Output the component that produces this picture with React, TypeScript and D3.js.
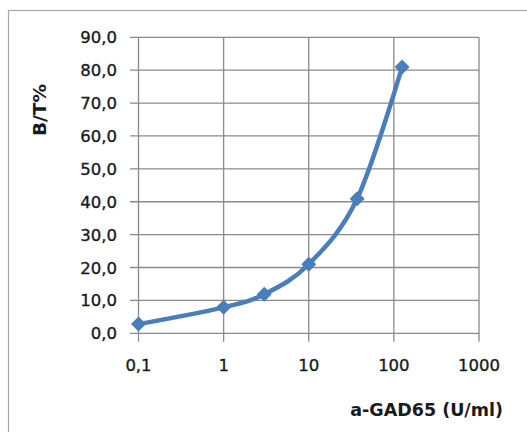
import React from "react";
import * as d3 from "d3";

const concentrations = [0.1, 1, 3, 10, 37, 125];
const btPercent = [2.8, 7.9, 11.9, 21.0, 40.9, 81.0];
const xTicks = [0.1, 1, 10, 100, 1000];
const xTickLabels = ["0,1", "1", "10", "100", "1000"];
const yTicks = [0, 10, 20, 30, 40, 50, 60, 70, 80, 90];
const xTitle = "a-GAD65 (U/ml)";
const yTitle = "B/T%";

const W = 527;
const H = 432;
const left = 138.5;
const right = 479;
const top = 37.3;
const bottom = 333.3;
const FONT = "'DejaVu Sans', sans-serif";

export default function App() {
  const x = d3.scaleLog().domain([0.1, 1000]).range([left, right]);
  const y = d3.scaleLinear().domain([0, 90]).range([bottom, top]);
  const pts: [number, number][] = concentrations.map((c, i) => [x(c), y(btPercent[i])]);
  const line = d3.line().curve(d3.curveCatmullRom.alpha(0))(pts) || "";
  const grid = "#8a8a8a";
  const blue = "#4a7ebb";
  const dm = 7.5;
  const txt = "#1a1a1a";
  return (
    <svg
      width={W}
      height={H}
      style={{ position: "absolute", left: 0, top: 0, background: "#fff" }}
    >
      <rect x={8.5} y={10.5} width={600} height={500} fill="#fff" stroke="#a6a6a6" strokeWidth={1.2} />
      {yTicks.map((t) => (
        <line key={"gy" + t} x1={130} x2={right} y1={y(t)} y2={y(t)} stroke={grid} strokeWidth={1.3} />
      ))}
      {xTicks.map((t) => (
        <line key={"gx" + t} x1={x(t)} x2={x(t)} y1={top} y2={bottom + 8.5} stroke={grid} strokeWidth={1.3} />
      ))}
      {yTicks.map((t) => (
        <text
          key={"ly" + t}
          x={117}
          y={y(t) + 6}
          textAnchor="end"
          fontFamily={FONT}
          fontSize={16.5}
          fill={txt}
          stroke={txt}
          strokeWidth={0.35}
        >
          {t.toFixed(1).replace(".", ",")}
        </text>
      ))}
      {xTicks.map((t, i) => (
        <text
          key={"lx" + t}
          x={x(t)}
          y={370.5}
          textAnchor="middle"
          fontFamily={FONT}
          fontSize={16.5}
          fill={txt}
          stroke={txt}
          strokeWidth={0.35}
        >
          {xTickLabels[i]}
        </text>
      ))}
      <path d={line} fill="none" stroke={blue} strokeWidth={4.5} strokeLinejoin="round" />
      {pts.map(([px, py], i) => (
        <path
          key={"m" + i}
          d={`M${px},${py - dm}L${px + dm},${py}L${px},${py + dm}L${px - dm},${py}Z`}
          fill={blue}
        />
      ))}
      <text
        x={503}
        y={416}
        textAnchor="end"
        fontFamily={FONT}
        fontWeight="bold"
        fontSize={17.5}
        fill={txt}
      >
        {xTitle}
      </text>
      <text
        transform={`translate(46,110) rotate(-90)`}
        textAnchor="middle"
        fontFamily={FONT}
        fontWeight="bold"
        fontSize={18.5}
        fill={txt}
      >
        {yTitle}
      </text>
    </svg>
  );
}
